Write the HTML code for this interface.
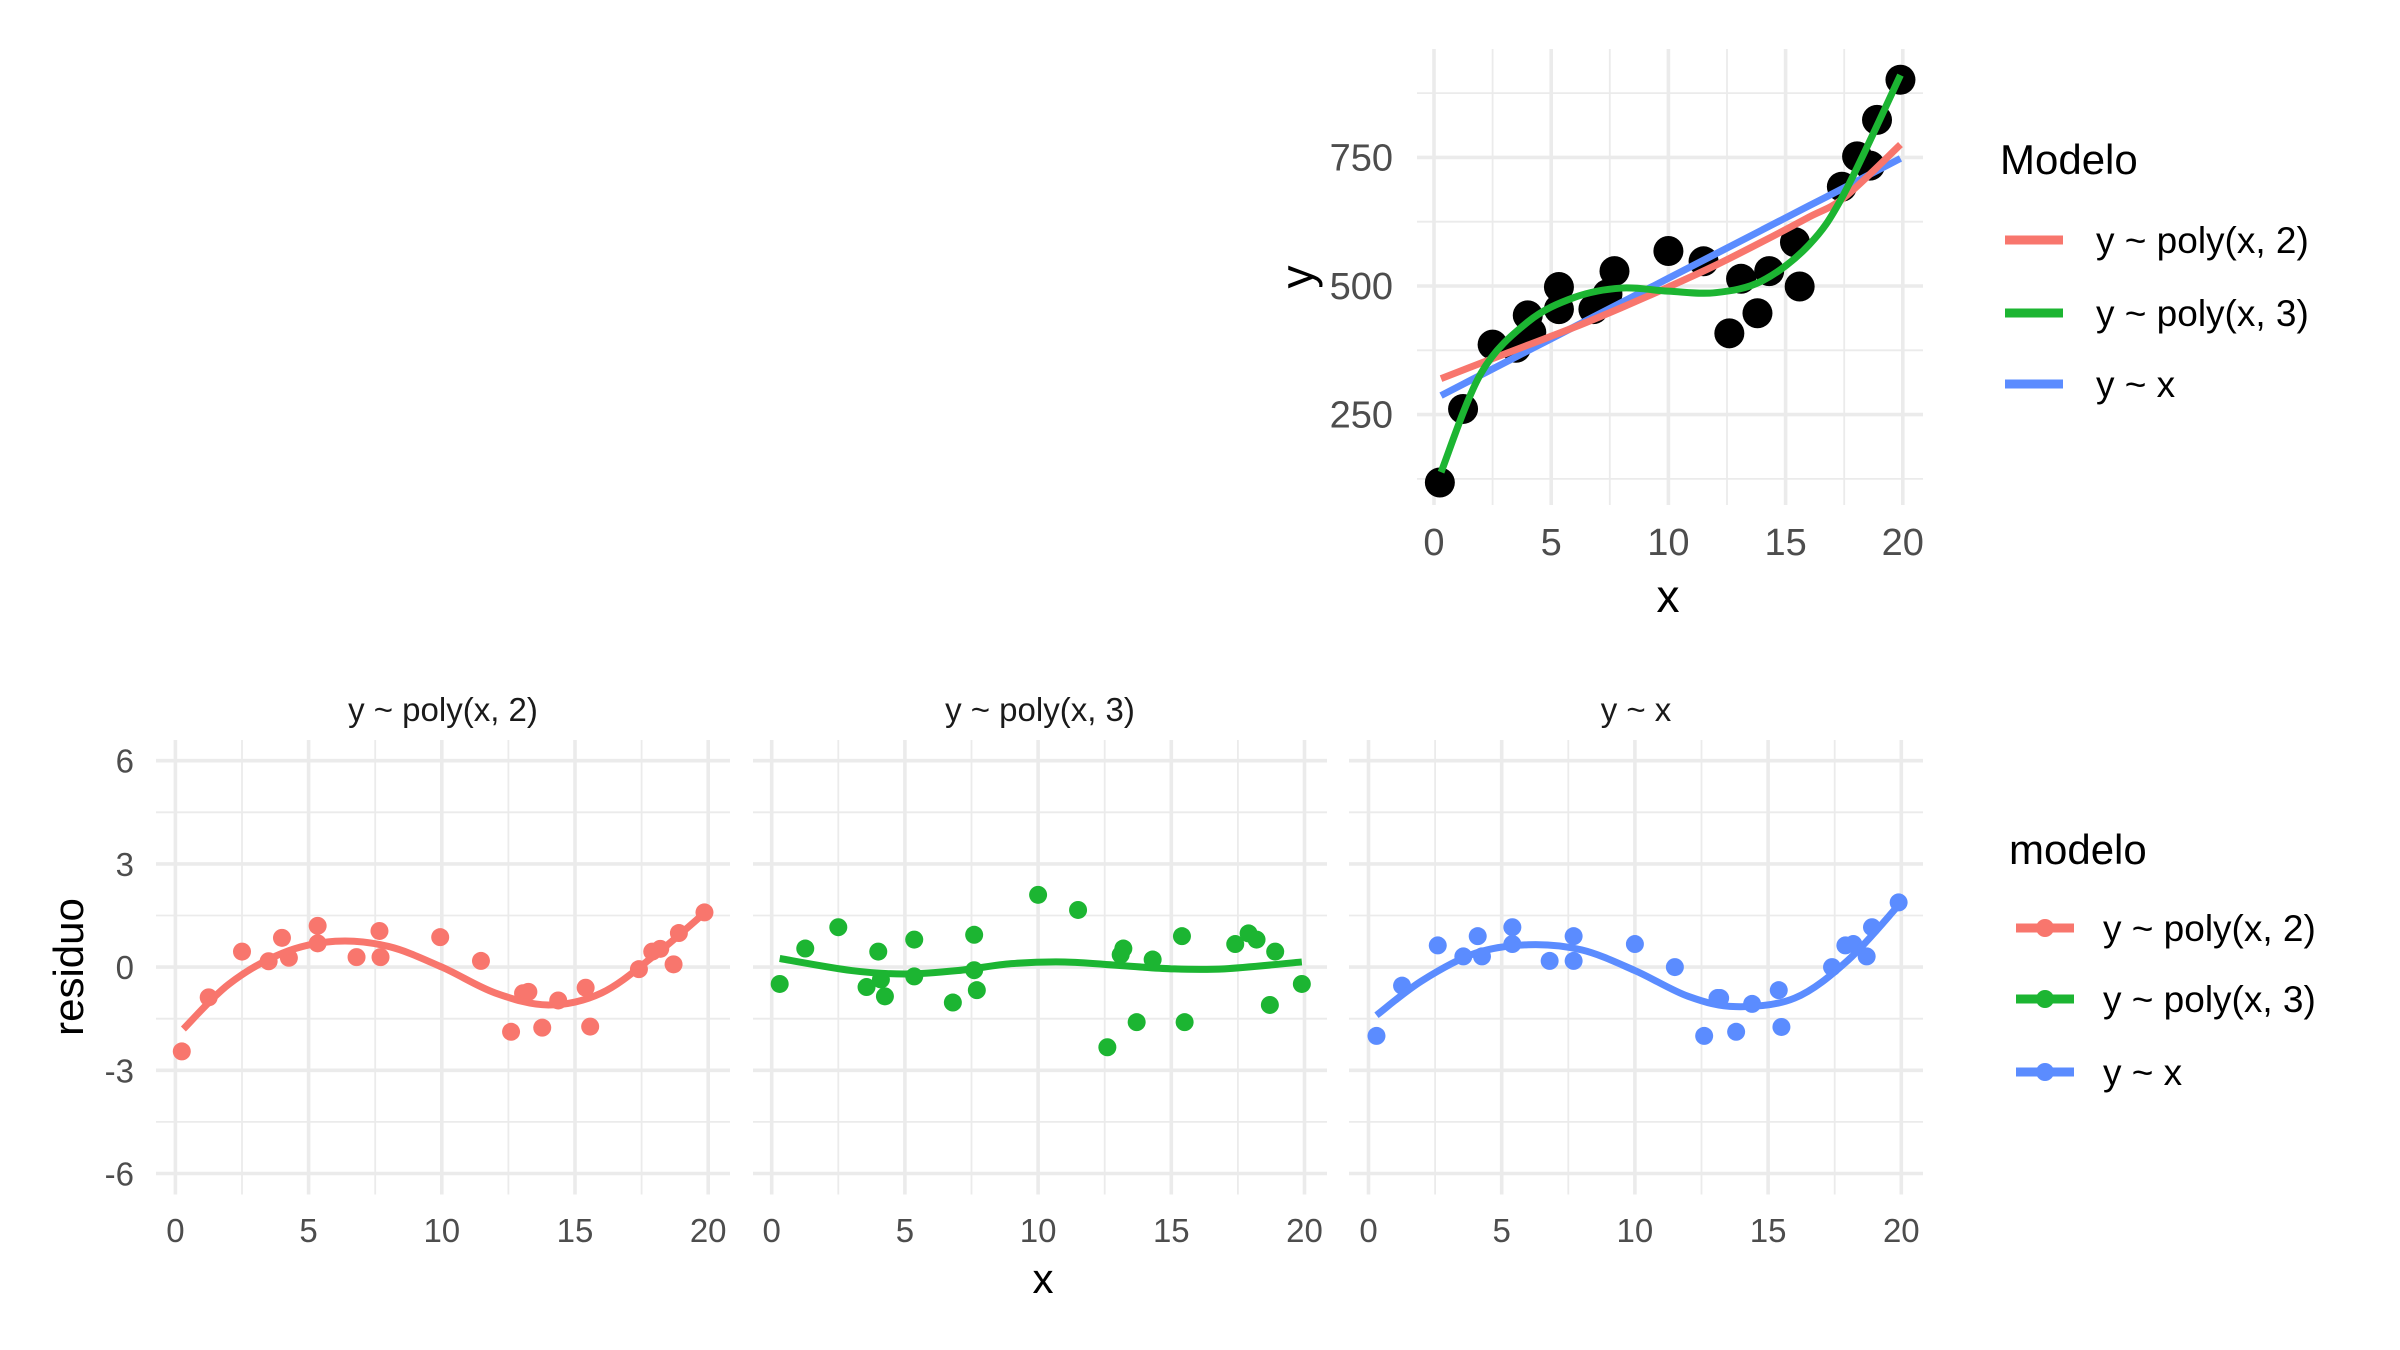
<!DOCTYPE html>
<html><head><meta charset="utf-8">
<style>
html,body{margin:0;padding:0;background:#fff;}
svg{display:block;font-family:"Liberation Sans",Arial,sans-serif;}
</style></head>
<body>
<svg id="chart" width="2400" height="1350" viewBox="0 0 2400 1350" xmlns="http://www.w3.org/2000/svg">
<g id="topPanel"></g>
<g id="bottomPanel"></g>
<g id="legends"></g>
</svg>
<script>
// ---- data: top scatter ----
const ptsX = [0.25,1.24,2.5,3.5,4.0,4.15,5.33,5.33,6.8,7.4,7.7,10.0,11.5,12.6,13.1,13.8,14.3,15.4,15.6,17.4,18.05,18.6,18.9,19.9];
const ptsY = [118,261,386,380,443,410,498,455,455,484,529,568,548,408,514,447,529,585,499,693,752,734,823,901];
const fitX = [0.3,2,4,6,8,10,12,14,16,17.5,19.9];
const fitPoly2 = [320,350,385,420,458,498,540,586,634,672,775];
const fitPoly3 = [138,330,430,478,496,490,487,510,580,680,910];
const fitLin = [287,327,374,421,468,515,562,609,656,691,748];
const topXTicks = [0,5,10,15,20];
const topYTicks = [250,500,750];
const modelNames = ["y ~ poly(x, 2)","y ~ poly(x, 3)","y ~ x"];
const modelColors = ["#F8766D","#1CB532","#5B8CFF"];
// ---- data: residuals ----
const resX1 = [0.24,1.25,2.5,3.5,4.0,4.26,5.34,5.34,6.8,7.66,7.7,9.94,11.47,12.6,13.05,13.25,13.77,14.37,15.4,15.57,17.4,17.9,18.2,18.7,18.9,19.86];
const resY1 = [-2.45,-0.88,0.45,0.17,0.85,0.27,1.2,0.69,0.29,1.05,0.29,0.87,0.18,-1.88,-0.76,-0.72,-1.76,-0.97,-0.6,-1.73,-0.06,0.45,0.53,0.08,0.99,1.59];
const resX2 = [0.3,1.26,2.5,3.56,4.0,4.1,4.25,5.35,5.35,6.8,7.6,7.6,7.7,10.0,11.5,12.6,13.1,13.2,13.7,14.3,15.4,15.5,17.4,17.9,18.2,18.7,18.9,19.9];
const resY2 = [-0.49,0.54,1.16,-0.58,0.45,-0.36,-0.85,0.8,-0.27,-1.03,0.94,-0.09,-0.67,2.1,1.66,-2.33,0.36,0.54,-1.6,0.22,0.9,-1.6,0.67,0.98,0.8,-1.1,0.45,-0.49];
const resX3 = [0.3,1.26,2.6,3.56,4.1,4.26,5.4,5.4,6.8,7.7,7.7,10.0,11.5,12.6,13.1,13.2,13.8,14.4,15.4,15.5,17.4,17.9,18.2,18.7,18.9,19.9];
const resY3 = [-2.0,-0.54,0.63,0.31,0.9,0.31,1.16,0.67,0.18,0.9,0.18,0.67,0,-2.0,-0.9,-0.9,-1.88,-1.07,-0.67,-1.74,0,0.63,0.67,0.31,1.16,1.88];
const smoothX1 = [0.3,2,4,6,8,10,12,14,16,18,19.9];
const smoothY1 = [-1.8,-0.5,0.4,0.75,0.6,0,-0.75,-1.1,-0.75,0.35,1.6];
const smoothX2 = [0.3,3,5,7,9,11,13,15,17,19.9];
const smoothY2 = [0.25,-0.1,-0.2,-0.1,0.1,0.15,0.05,-0.05,-0.05,0.15];
const smoothX3 = [0.3,2,4,6,8,10,12,13.8,16,18,19.9];
const smoothY3 = [-1.4,-0.4,0.4,0.65,0.5,-0.1,-0.85,-1.15,-0.9,0.2,1.8];
const resXTicks = [0,5,10,15,20];
const resYTicks = [-6,-3,0,3,6];

const NS="http://www.w3.org/2000/svg";
function mk(parent,tag,attrs,text){const e=document.createElementNS(NS,tag);for(const k in attrs)e.setAttribute(k,attrs[k]);if(text!==undefined)e.textContent=text;parent.appendChild(e);return e;}
function smoothPath(xs,ys){
  const p=xs.map((x,i)=>[x,ys[i]]);let d="M"+p[0][0]+","+p[0][1];
  for(let i=0;i<p.length-1;i++){const p0=p[i-1]||p[i],p1=p[i],p2=p[i+1],p3=p[i+2]||p2;
    const c1=[p1[0]+(p2[0]-p0[0])/6,p1[1]+(p2[1]-p0[1])/6],c2=[p2[0]-(p3[0]-p1[0])/6,p2[1]-(p3[1]-p1[1])/6];
    d+=" C"+c1[0]+","+c1[1]+" "+c2[0]+","+c2[1]+" "+p2[0]+","+p2[1];}
  return d;}

// ---- top plot ----
const topG=document.getElementById('topPanel');
const tx=v=>1434+v*23.44, ty=v=>157.4+(750-v)*0.5144;
const TL=1417,TR=1923,TT=49,TB=505;
for(let v=-2.5;v<=22.5;v+=2.5){const isMaj=v%5===0;const x=tx(v);if(x<TL-1||x>TR+1)continue;
  const l=mk(topG,'line',{x1:x,x2:x,y1:TT,y2:TB,stroke:'#ebebeb','stroke-width':isMaj?3.6:1.8});
  
  }
for(let v=125;v<=875;v+=125){const isMaj=v%250===0;const y=ty(v);
  const l=mk(topG,'line',{x1:TL,x2:TR,y1:y,y2:y,stroke:'#ebebeb','stroke-width':isMaj?3.6:1.8});
  
  }
topXTicks.forEach(v=>{const t=mk(topG,'text',{x:tx(v),y:555,'text-anchor':'middle','font-size':38,fill:'#4d4d4d'},String(v));
  
  });
topYTicks.forEach(v=>{const t=mk(topG,'text',{x:1393,y:ty(v)+13,'text-anchor':'end','font-size':38,fill:'#4d4d4d'},String(v));
  
  });
let t1=mk(topG,'text',{x:1668,y:612,'text-anchor':'middle','font-size':46,fill:'#000'},'x');


let t2=mk(topG,'text',{x:0,y:0,'text-anchor':'middle','font-size':46,fill:'#000',transform:'translate(1313,277) rotate(-90)'},'y');


ptsX.forEach((x,i)=>{const c=mk(topG,'circle',{cx:tx(x),cy:ty(ptsY[i]),r:15,fill:'#000'});
  
  });
[[fitLin,2],[fitPoly2,0],[fitPoly3,1]].forEach(([arr,ci])=>{
  const p=mk(topG,'path',{d:smoothPath(fitX.map(tx),arr.map(ty)),fill:'none',stroke:modelColors[ci],'stroke-width':7});
  
  });

// ---- residual panels ----
const bottomG=document.getElementById('bottomPanel');
const panels=[{x0:175.4,X:resX1,Y:resY1,SX:smoothX1,SY:smoothY1,L:156,R:730},
              {x0:771.7,X:resX2,Y:resY2,SX:smoothX2,SY:smoothY2,L:753,R:1327},
              {x0:1368.5,X:resX3,Y:resY3,SX:smoothX3,SY:smoothY3,L:1349,R:1923}];
const ry=v=>967.1-v*34.4, BT=740, BB=1194.5;
panels.forEach((P,pi)=>{
  const g=mk(bottomG,'g',{});
  
  
  const rx=v=>P.x0+v*26.64;
  for(let v=0;v<=20;v+=2.5){const maj=v%5===0;const l=mk(g,'line',{x1:rx(v),x2:rx(v),y1:BT,y2:BB,stroke:'#ebebeb','stroke-width':maj?3.6:1.8});
    
    }
  for(let v=-6;v<=6;v+=1.5){const maj=v%3===0;const l=mk(g,'line',{x1:P.L,x2:P.R,y1:ry(v),y2:ry(v),stroke:'#ebebeb','stroke-width':maj?3.6:1.8});
    
    }
  resXTicks.forEach(v=>{const t=mk(g,'text',{x:rx(v),y:1242,'text-anchor':'middle','font-size':33,fill:'#4d4d4d'},String(v));
    
    });
  const st=mk(g,'text',{x:(P.L+P.R)/2,y:721,'text-anchor':'middle','font-size':33,fill:'#1a1a1a'},modelNames[pi]);
  
  
  P.X.forEach((x,i)=>{const c=mk(g,'circle',{cx:rx(x),cy:ry(P.Y[i]),r:9,fill:modelColors[pi]});
    
    });
  const p=mk(g,'path',{d:smoothPath(P.SX.map(rx),P.SY.map(ry)),fill:'none',stroke:modelColors[pi],'stroke-width':7});
  
  
});
resYTicks.forEach(v=>{const t=mk(bottomG,'text',{x:134,y:ry(v)+12,'text-anchor':'end','font-size':33,fill:'#4d4d4d'},String(v));
  
  });
let t3=mk(bottomG,'text',{x:1043,y:1293,'text-anchor':'middle','font-size':42,fill:'#000'},'x');


let t4=mk(bottomG,'text',{x:0,y:0,'text-anchor':'middle','font-size':42,fill:'#000',transform:'translate(83,967) rotate(-90)'},'residuo');



// ---- legends ----
const lg=document.getElementById('legends');
let lt=mk(lg,'text',{x:2000,y:174,'font-size':42,fill:'#000'},'Modelo');


[240,313,384].forEach((y,i)=>{
  const l=mk(lg,'line',{x1:2005,x2:2063,y1:y,y2:y,stroke:modelColors[i],'stroke-width':9});
  
  
  const t=mk(lg,'text',{x:2096,y:y+13,'font-size':37,fill:'#000'},modelNames[i]);
  
  });
let lt2=mk(lg,'text',{x:2009,y:864,'font-size':42,fill:'#000'},'modelo');


[928,999,1072].forEach((y,i)=>{
  const l=mk(lg,'line',{x1:2016,x2:2074,y1:y,y2:y,stroke:modelColors[i],'stroke-width':9});
  
  
  const c=mk(lg,'circle',{cx:2045,cy:y,r:9,fill:modelColors[i]});
  
  
  const t=mk(lg,'text',{x:2103,y:y+13,'font-size':37,fill:'#000'},modelNames[i]);
  
  });
</script>
</body></html>
